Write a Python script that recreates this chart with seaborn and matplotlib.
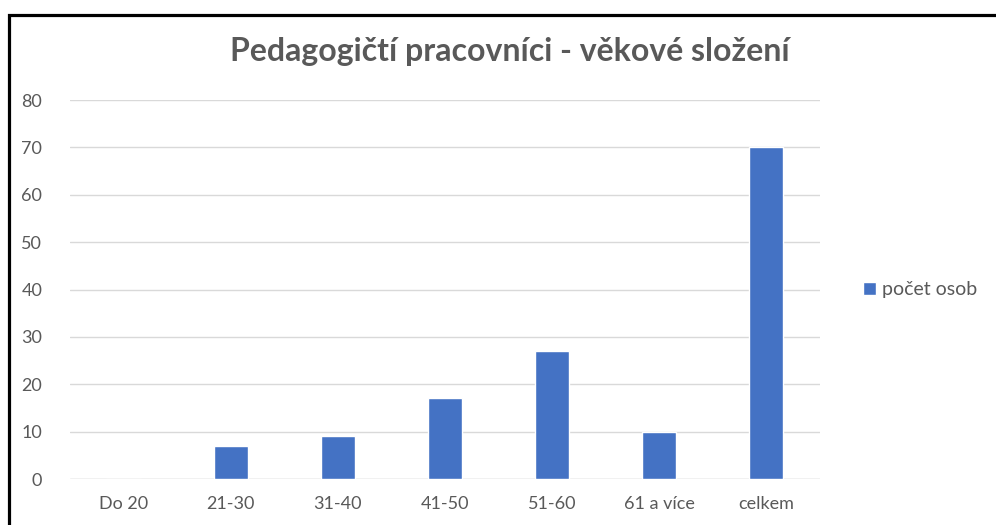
import matplotlib
matplotlib.use("Agg")
import matplotlib.pyplot as plt
import matplotlib.patches as mpatches
import seaborn as sns
import pandas as pd

TITLE      = "Pedagogičtí pracovníci - věkové složení"
CATEGORIES = ["Do 20", "21-30", "31-40", "41-50", "51-60", "61 a více", "celkem"]
VALUES     = [0, 7, 9, 17, 27, 10, 70]
SERIES     = "počet osob"
Y_TICKS    = [0, 10, 20, 30, 40, 50, 60, 70, 80]

BLUE = "#4472C4"
GREY = "#595959"

sns.set_theme(style="white")
plt.rcParams["font.family"] = ["Lato", "DejaVu Sans"]

df = pd.DataFrame({"kategorie": CATEGORIES, "hodnota": VALUES, "serie": SERIES})

fig = plt.figure(figsize=(9.96, 5.25), dpi=100)
ax = fig.add_axes([0.0703, 0.0876, 0.7527, 0.7219])

sns.barplot(data=df, x="kategorie", y="hodnota", hue="serie", palette=[BLUE],
            width=0.32, ax=ax, saturation=1)

ax.set_ylim(0, 80)
ax.set_yticks(Y_TICKS)
ax.set_xlim(-0.5, len(CATEGORIES) - 0.5)
ax.yaxis.grid(True, color="#D9D9D9", linewidth=1)
ax.set_axisbelow(True)
for s in ax.spines.values():
    s.set_visible(False)
ax.axhline(0, color="#D9D9D9", linewidth=1, zorder=0)
ax.set_xlabel("")
ax.set_ylabel("")
ax.tick_params(axis="both", length=0, colors=GREY, labelsize=13)
ax.tick_params(axis="y", pad=20)
ax.tick_params(axis="x", pad=12)

ax.legend(loc="center left", bbox_to_anchor=(1.035, 0.5), frameon=False,
          fontsize=14, labelcolor=GREY, handlelength=0.65, handleheight=0.65,
          handletextpad=0.3)

fig.text(0.512, 0.902, TITLE, ha="center", va="center", fontsize=23,
         fontweight="bold", color=GREY)

# black frame around the chart (cut off on right/bottom in the original)
fig.add_artist(mpatches.Rectangle((0.0095, -0.2), 1.2, 0.2 + 0.9705,
                                  transform=fig.transFigure, fill=False,
                                  edgecolor="black", linewidth=2.3))

fig.savefig("out.png", dpi=100)
